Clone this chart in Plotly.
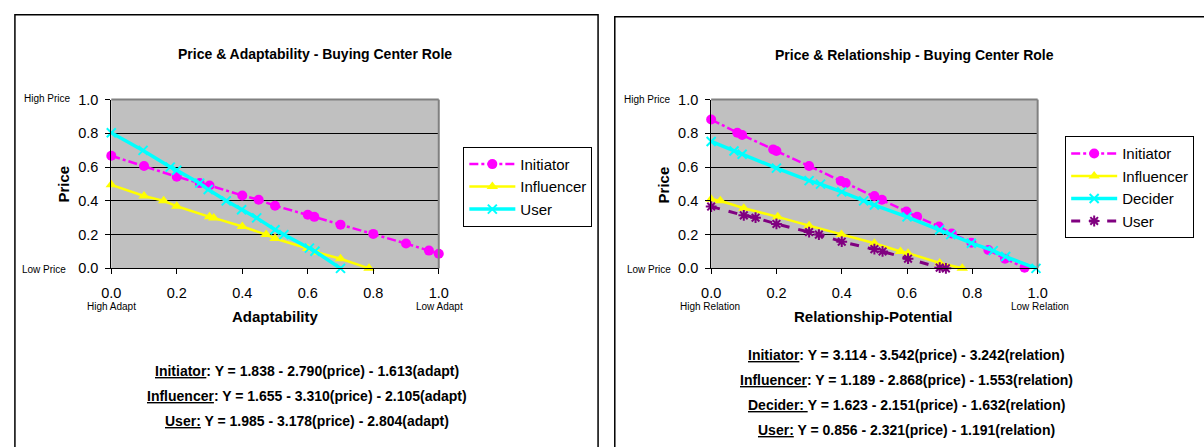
import plotly.graph_objects as go

W, H = 1204, 447

# ---------------- Left chart: Price & Adaptability ----------------
adapt_init_x = [0.0, 0.10, 0.20, 0.27, 0.30, 0.40, 0.45, 0.50, 0.60, 0.62, 0.70, 0.80, 0.90, 0.97, 1.0]
adapt_init_y = [0.667, 0.606, 0.543, 0.505, 0.491, 0.432, 0.406, 0.371, 0.318, 0.305, 0.259, 0.204, 0.147, 0.105, 0.086]

adapt_infl_x = [0.0, 0.10, 0.16, 0.20, 0.30, 0.313, 0.40, 0.473, 0.50, 0.60, 0.627, 0.70, 0.787]
adapt_infl_y = [0.495, 0.429, 0.40, 0.368, 0.305, 0.299, 0.248, 0.20, 0.177, 0.118, 0.095, 0.057, 0.0]

adapt_user_x = [0.0, 0.097, 0.18, 0.20, 0.27, 0.296, 0.351, 0.398, 0.444, 0.50, 0.527, 0.605, 0.622, 0.70]
adapt_user_y = [0.804, 0.699, 0.60, 0.581, 0.505, 0.467, 0.40, 0.347, 0.299, 0.229, 0.20, 0.12, 0.101, 0.0]

# ---------------- Right chart: Price & Relationship ----------------
rel_init_x = [0.0, 0.08, 0.095, 0.19, 0.20, 0.30, 0.397, 0.412, 0.50, 0.523, 0.598, 0.631, 0.698, 0.737, 0.797, 0.849, 0.90, 0.96]
rel_init_y = [0.882, 0.804, 0.79, 0.705, 0.695, 0.606, 0.518, 0.505, 0.429, 0.406, 0.337, 0.305, 0.248, 0.206, 0.152, 0.109, 0.057, 0.004]

rel_infl_x = [0.0, 0.028, 0.10, 0.204, 0.30, 0.399, 0.50, 0.58, 0.603, 0.70, 0.769]
rel_infl_y = [0.41, 0.40, 0.356, 0.305, 0.253, 0.20, 0.149, 0.10, 0.09, 0.032, 0.0]

rel_dec_x = [0.0, 0.07, 0.095, 0.20, 0.30, 0.335, 0.40, 0.467, 0.50, 0.60, 0.70, 0.734, 0.797, 0.864, 0.902, 0.995]
rel_dec_y = [0.752, 0.695, 0.676, 0.594, 0.52, 0.499, 0.453, 0.40, 0.375, 0.305, 0.229, 0.20, 0.149, 0.105, 0.07, 0.0]

rel_user_x = [0.0, 0.10, 0.136, 0.20, 0.30, 0.33, 0.40, 0.50, 0.525, 0.603, 0.70, 0.719]
rel_user_y = [0.366, 0.314, 0.30, 0.263, 0.215, 0.20, 0.158, 0.114, 0.10, 0.057, 0.004, 0.0]

tick_vals = [0.0, 0.2, 0.4, 0.6, 0.8, 1.0]
tick_text = ["0.0", "0.2", "0.4", "0.6", "0.8", "1.0"]

left_title = "Price & Adaptability - Buying Center Role"
right_title = "Price & Relationship - Buying Center Role"
left_eqs = [
    "<u>Initiator</u>: Y = 1.838 - 2.790(price) - 1.613(adapt)",
    "<u>Influencer</u>: Y = 1.655 - 3.310(price) - 2.105(adapt)",
    "<u>User:</u> Y = 1.985 - 3.178(price) - 2.804(adapt)",
]
right_eqs = [
    "<u>Initiator</u>: Y = 3.114 - 3.542(price) - 3.242(relation)",
    "<u>Influencer</u>: Y = 1.189 - 2.868(price) - 1.553(relation)",
    "<u>Decider: </u>Y = 1.623 - 2.151(price) - 1.632(relation)",
    "<u>User:</u> Y = 0.856 - 2.321(price) - 1.191(relation)",
]

MAG = "#FF00FF"
YEL = "#FFFF00"
CYA = "#00FFFF"
PUR = "#800080"
FONT = "Arial, Liberation Sans, sans-serif"

fig = go.Figure()

def add(x, y, name, color, dash, symbol, width, xa, ya, legend, msize=9, mline=False):
    marker = dict(symbol=symbol, size=msize, color=color)
    if mline:
        marker["line"] = dict(color=color, width=2)
    fig.add_trace(go.Scatter(
        x=x, y=y, name=name, mode="lines+markers",
        line=dict(color=color, width=width, dash=dash),
        marker=marker, xaxis=xa, yaxis=ya, legend=legend,
        legendgroup=legend + name, cliponaxis=False,
    ))

add(adapt_init_x, adapt_init_y, "Initiator", MAG, "dashdot", "circle", 2.5, "x", "y", "legend", 10)
add(adapt_infl_x, adapt_infl_y, "Influencer", YEL, "solid", "triangle-up", 2.5, "x", "y", "legend", 10)
add(adapt_user_x, adapt_user_y, "User", CYA, "solid", "x-thin", 3.5, "x", "y", "legend", 9, True)

add(rel_init_x, rel_init_y, "Initiator", MAG, "dashdot", "circle", 2.5, "x2", "y2", "legend2", 10)
add(rel_infl_x, rel_infl_y, "Influencer", YEL, "solid", "triangle-up", 2.5, "x2", "y2", "legend2", 10)
add(rel_dec_x, rel_dec_y, "Decider", CYA, "solid", "x-thin", 3.5, "x2", "y2", "legend2", 9, True)
add(rel_user_x, rel_user_y, "User", PUR, "dash", "asterisk", 3, "x2", "y2", "legend2", 9, True)

def px_x(p):
    return p / W

def px_y(p):
    return 1 - p / H

TICK = 14.5
xax_common = dict(range=[0, 1], tickvals=tick_vals, ticktext=tick_text, showgrid=False,
                  showline=True, linecolor="black", linewidth=1, ticks="outside", ticklen=5,
                  tickcolor="black", tickfont=dict(family=FONT, size=TICK, color="black"),
                  zeroline=False, fixedrange=True, ticklabelstandoff=6)
yax_common = dict(range=[0, 1], tickvals=tick_vals, ticktext=tick_text, showgrid=True,
                  gridcolor="black", gridwidth=1,
                  showline=True, linecolor="black", linewidth=1, ticks="outside", ticklen=5,
                  tickcolor="black", tickfont=dict(family=FONT, size=TICK, color="black"),
                  zeroline=False, fixedrange=True, ticklabelstandoff=4)

leg_common = dict(xanchor="left", yanchor="top", bgcolor="white", bordercolor="black", borderwidth=1,
                  font=dict(family=FONT, size=15, color="black"), tracegroupgap=0, itemwidth=46)

fig.update_layout(
    width=W, height=H,
    margin=dict(l=0, r=0, t=0, b=0),
    paper_bgcolor="white",
    plot_bgcolor="#C0C0C0",
    font=dict(family=FONT, color="black"),
    xaxis=dict(domain=[px_x(103), px_x(436)], anchor="y", **xax_common),
    yaxis=dict(domain=[px_y(270), px_y(95)], anchor="x", **yax_common),
    xaxis2=dict(domain=[px_x(713), px_x(1045)], anchor="y2", **xax_common),
    yaxis2=dict(domain=[px_y(270), px_y(95)], anchor="x2", **yax_common),
    legend=dict(x=px_x(461), y=px_y(144), **leg_common),
    legend2=dict(x=px_x(1073), y=px_y(133), **leg_common),
    showlegend=True,
)

shapes = []
# panel borders
shapes.append(dict(type="rect", xref="paper", yref="paper", x0=px_x(5), x1=px_x(598),
                   y0=-0.05, y1=px_y(7), line=dict(color="black", width=1.5)))
shapes.append(dict(type="rect", xref="paper", yref="paper", x0=px_x(615), x1=1.05,
                   y0=-0.05, y1=px_y(9), line=dict(color="black", width=1.5)))
# gray plot area top/right border
for xa, ya in (("x", "y"), ("x2", "y2")):
    shapes.append(dict(type="line", xref=xa + " domain", yref=ya + " domain", x0=0, x1=1, y0=1, y1=1,
                       line=dict(color="#808080", width=2)))
    shapes.append(dict(type="line", xref=xa + " domain", yref=ya + " domain", x0=1, x1=1, y0=0, y1=1,
                       line=dict(color="#808080", width=2)))
fig.update_layout(shapes=shapes)

ann = []
def text(x, y, s, size, bold=False, angle=0):
    ann.append(dict(x=px_x(x), y=px_y(y), xref="paper", yref="paper", text=("<b>%s</b>" % s) if bold else s,
                    showarrow=False, xanchor="center", yanchor="middle", textangle=angle,
                    font=dict(family=FONT, size=size, color="black")))

text(310, 48, left_title, 14, True)
text(920, 49, right_title, 14, True)
text(54, 183, "Price", 15, True, -90)
text(664, 183, "Price", 15, True, -90)
text(269, 320, "Adaptability", 15, True)
text(878, 320, "Relationship-Potential", 15, True)
text(38, 94, "High Price", 10)
text(35, 271, "Low Price", 10)
text(648, 95, "High Price", 10)
text(650, 271, "Low Price", 10)
text(103, 310, "High Adapt", 10)
text(437, 310, "Low Adapt", 10)
text(712, 310, "High Relation", 10)
text(1047, 310, "Low Relation", 10)
for i, s in enumerate(left_eqs):
    text(302, 376 + 26 * i, s, 14, True)
for i, s in enumerate(right_eqs):
    text(912, 360 + 26 * i, s, 14, True)
fig.update_layout(annotations=ann)

fig.write_html("out.html", config={"displayModeBar": False},
               post_script="document.body.style.margin='0';document.body.style.overflow='hidden';")
